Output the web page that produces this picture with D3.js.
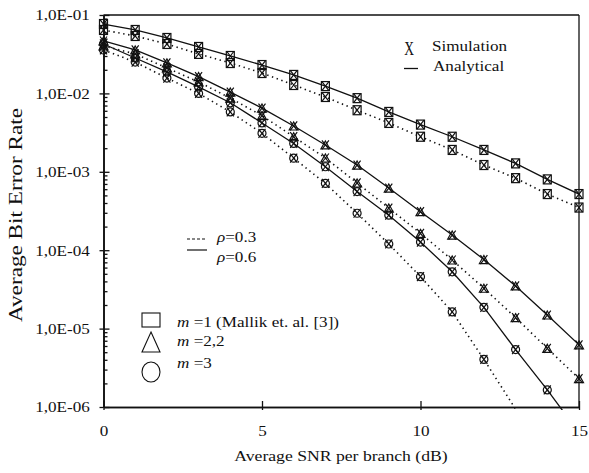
<!DOCTYPE html>
<html>
<head>
<meta charset="utf-8">
<script src="https://cdn.jsdelivr.net/npm/d3@7"></script>
<style>
  body { margin: 0; background: #fff; }
  text { font-family: "Liberation Serif", "DejaVu Serif", serif; fill: #111; }
</style>
</head>
<body>
<div id="chart"></div>
<script>
// Data
var snr = [0, 1, 2, 3, 4, 5, 6, 7, 8, 9, 10, 11, 12, 13, 14, 15];

var berM1Rho06 = [0.0767, 0.0644, 0.0509, 0.0391, 0.030, 0.023, 0.0172, 0.0124,
  0.0087, 0.0058, 0.0040, 0.0028, 0.0019, 0.00128, 0.0008, 0.00052];
var berM1Rho03 = [0.0644, 0.054, 0.0427, 0.0319, 0.0244, 0.0182, 0.0128, 0.009,
  0.0061, 0.0042, 0.0028, 0.0019, 0.00122, 0.00083, 0.00052, 0.00035];
var berM22Rho06 = [0.0466, 0.0358, 0.0245, 0.0164, 0.0104, 0.0065, 0.00384, 0.0022,
  0.00122, 0.00062, 0.00031, 0.000156, 0.000076, 0.000035, 0.0000149, 0.0000062];
var berM22Rho03 = [0.0403, 0.0319, 0.0211, 0.014, 0.0087, 0.0052, 0.0028, 0.0015,
  0.00072, 0.000345, 0.000164, 0.000075, 0.0000327, 0.0000138, 0.0000056, 0.0000023];
var berM3Rho06 = [0.0427, 0.0283, 0.0188, 0.0121, 0.0076, 0.0042, 0.0023, 0.00116,
  0.00056, 0.00028, 0.000127, 0.000053, 0.0000187, 0.0000054, 0.00000165, 0.00000047];
var berM3Rho03 = [0.0358, 0.0251, 0.0157, 0.0100, 0.0058, 0.0031, 0.00149, 0.00071,
  0.000296, 0.00012, 0.000046, 0.0000163, 0.00000405, 0.00000094];

var xTicks = [0, 5, 10, 15];
var yTicks = [1e-1, 1e-2, 1e-3, 1e-4, 1e-5, 1e-6];
var yTickLabels = ['1,0E-01', '1,0E-02', '1,0E-03', '1,0E-04', '1,0E-05', '1,0E-06'];

var series = [
  {values: berM1Rho06, rho: 0.6, symbol: 'square'},
  {values: berM1Rho03, rho: 0.3, symbol: 'square'},
  {values: berM22Rho06, rho: 0.6, symbol: 'triangle'},
  {values: berM22Rho03, rho: 0.3, symbol: 'triangle'},
  {values: berM3Rho06, rho: 0.6, symbol: 'circle'},
  {values: berM3Rho03, rho: 0.3, symbol: 'circle'}
];

var chartWidth = 589;
var chartHeight = 473;
var plotLeft = 103.5, plotRight = 579, plotTop = 15, plotBottom = 407;
var stretch = 'scale(1.14,1)';

var svg = d3.select('#chart')
    .append('svg')
    .attr('width', chartWidth)
    .attr('height', chartHeight);

var scaleX = d3.scaleLinear().domain([0, 15]).range([plotLeft, plotRight]);
var scaleY = d3.scaleLog().domain([1e-6, 1e-1]).range([plotBottom, plotTop]);

// minor log ticks
var minorTicks = [];
yTicks.slice(1).forEach(function(t) {
  for (var j = 2; j < 10; j++) minorTicks.push(t * j);
});

// Left axis with labels
var yAxis = svg.append('g')
    .attr('transform', 'translate(' + plotLeft + ',0)')
    .call(d3.axisLeft(scaleY)
      .tickValues(yTicks)
      .tickSize(4)
      .tickSizeOuter(0)
      .tickPadding(8)
      .tickFormat(function(d, i) { return yTickLabels[i]; }));
yAxis.selectAll('text').attr('font-size', 15).attr('transform', stretch);

// inward ticks
svg.append('g')
    .attr('transform', 'translate(' + plotLeft + ',0)')
    .call(d3.axisRight(scaleY).tickValues(yTicks).tickSize(6).tickSizeOuter(0).tickFormat(''));
svg.append('g')
    .attr('transform', 'translate(' + plotLeft + ',0)')
    .call(d3.axisRight(scaleY).tickValues(minorTicks).tickSize(4).tickSizeOuter(0).tickFormat(''));

// Bottom axis
var xAxis = svg.append('g')
    .attr('transform', 'translate(0,' + plotBottom + ')')
    .call(d3.axisBottom(scaleX)
      .tickValues(xTicks)
      .tickSize(3)
      .tickSizeOuter(0)
      .tickPadding(15)
      .tickFormat(d3.format('d')));
xAxis.selectAll('text').attr('font-size', 15).attr('transform', stretch);
svg.append('g')
    .attr('transform', 'translate(0,' + plotBottom + ')')
    .call(d3.axisTop(scaleX).tickValues(xTicks).tickSize(6).tickSizeOuter(0).tickFormat(''));

svg.selectAll('.domain, .tick line').attr('stroke', '#111').attr('stroke-width', 1.3);

// Frame top and right
svg.append('line').attr('x1', plotLeft).attr('x2', plotRight).attr('y1', plotTop).attr('y2', plotTop)
    .attr('stroke', '#111').attr('stroke-width', 1.3);
svg.append('line').attr('x1', plotRight).attr('x2', plotRight).attr('y1', plotTop).attr('y2', plotBottom)
    .attr('stroke', '#111').attr('stroke-width', 1.3);

// Axis titles
svg.append('text')
    .attr('transform', 'translate(341,461) ' + stretch)
    .attr('text-anchor', 'middle')
    .attr('font-size', 15.5)
    .text('Average SNR per branch (dB)');

svg.append('text')
    .attr('transform', 'translate(22,215) rotate(-90)')
    .attr('text-anchor', 'middle')
    .attr('font-size', 18)
    .attr('textLength', 214)
    .attr('lengthAdjust', 'spacingAndGlyphs')
    .text('Average Bit Error Rate');

// Curves
svg.append('clipPath').attr('id', 'clip')
  .append('rect').attr('x', plotLeft).attr('y', plotTop)
  .attr('width', plotRight - plotLeft).attr('height', plotBottom - plotTop + 3);

var line = d3.line()
    .x(function(d) { return scaleX(d.x); })
    .y(function(d) { return scaleY(d.y); });

var plot = svg.append('g').attr('clip-path', 'url(#clip)');

series.forEach(function(s) {
  var pts = s.values.map(function(v, i) { return {x: snr[i], y: v}; });
  plot.append('path')
      .attr('d', line(pts))
      .attr('fill', 'none')
      .attr('stroke', '#111')
      .attr('stroke-width', s.rho === 0.6 ? 1.3 : 1.6)
      .attr('stroke-dasharray', s.rho === 0.6 ? null : '1.4,3.6');
});

// Markers
function drawMarker(g, symbol, cx, cy) {
  var m = g.append('g').attr('transform', 'translate(' + cx + ',' + cy + ')')
      .attr('fill', 'none').attr('stroke', '#111').attr('stroke-width', 1.2);
  if (symbol === 'square') {
    m.append('rect').attr('x', -4).attr('y', -4.5).attr('width', 8).attr('height', 9);
  } else if (symbol === 'triangle') {
    m.append('path').attr('d', 'M0,-4L4.5,4L-4.5,4Z');
  } else {
    m.append('circle').attr('r', 4);
  }
  m.append('path').attr('d', 'M-3.5,-4.5L3.5,4.5M3.5,-4.5L-3.5,4.5');
}

series.forEach(function(s) {
  s.values.forEach(function(v, i) {
    if (v >= 1e-6) drawMarker(svg, s.symbol, scaleX(snr[i]), scaleY(v));
  });
});

// Legend: simulation / analytical
svg.append('text').attr('transform', 'translate(409,55) scale(0.9,1.2)')
    .attr('text-anchor', 'middle').attr('font-size', 15).text('X');
svg.append('text').attr('transform', 'translate(432,51) ' + stretch)
    .attr('font-size', 15).text('Simulation');
svg.append('line').attr('x1', 404).attr('x2', 418).attr('y1', 68.5).attr('y2', 68.5)
    .attr('stroke', '#111').attr('stroke-width', 1.3);
svg.append('text').attr('transform', 'translate(433,71) ' + stretch)
    .attr('font-size', 15).text('Analytical');

// Legend: rho
[{rho: 0.3, y: 239, ty: 242, dash: '3,2'}, {rho: 0.6, y: 250, ty: 262, dash: null}].forEach(function(d) {
  svg.append('line').attr('x1', 187).attr('x2', 207).attr('y1', d.y).attr('y2', d.y)
      .attr('stroke', '#111').attr('stroke-width', 1.2).attr('stroke-dasharray', d.dash);
  var t = svg.append('text').attr('transform', 'translate(217,' + d.ty + ') ' + stretch)
      .attr('font-size', 15);
  t.append('tspan').attr('font-style', 'italic').text('\u03C1');
  t.append('tspan').text('=' + d.rho);
});

// Legend: m
var lg = svg.append('g').attr('fill', 'none').attr('stroke', '#111').attr('stroke-width', 1.1);
lg.append('rect').attr('x', 142).attr('y', 313).attr('width', 18).attr('height', 14);
lg.append('path').attr('d', 'M151,332L160,352L142,352Z');
lg.append('ellipse').attr('cx', 151).attr('cy', 372).attr('rx', 9).attr('ry', 10);

[{label: '=1 (Mallik et. al. [3])', y: 327}, {label: '=2,2', y: 346}, {label: '=3', y: 368}]
  .forEach(function(d) {
    var t = svg.append('text').attr('transform', 'translate(177,' + d.y + ') ' + stretch)
        .attr('font-size', 15);
    t.append('tspan').attr('font-style', 'italic').text('m');
    t.append('tspan').text(' ' + d.label);
  });
</script>
</body>
</html>
